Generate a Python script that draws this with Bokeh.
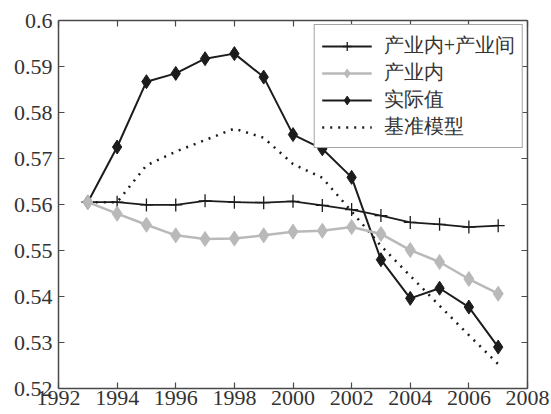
from bokeh.plotting import figure
from bokeh.models import (LinearAxis, FixedTicker, CustomJSTickFormatter, Range1d,
                          Legend, LegendItem)
from bokeh.embed import file_html
from bokeh.resources import INLINE

years = [1993, 1994, 1995, 1996, 1997, 1998, 1999, 2000, 2001, 2002, 2003, 2004, 2005, 2006, 2007]
both = [0.5605, 0.5605, 0.5599, 0.5599, 0.5608, 0.5605, 0.5604, 0.5607, 0.5598, 0.5589,
        0.5576, 0.5561, 0.5557, 0.5551, 0.5554]
intra = [0.5605, 0.5580, 0.5556, 0.5533, 0.5525, 0.5526, 0.5533, 0.5541, 0.5543, 0.5551,
         0.5536, 0.5501, 0.5475, 0.5438, 0.5406]
actual = [0.5605, 0.5725, 0.5867, 0.5885, 0.5917, 0.5928, 0.5877, 0.5752, 0.5721, 0.5659,
          0.5480, 0.5396, 0.5418, 0.5377, 0.5290]
baseline = [0.5605, 0.5605, 0.5685, 0.5715, 0.5740, 0.5765, 0.5745, 0.5688, 0.5658, 0.5585,
            0.5510, 0.5445, 0.5380, 0.5316, 0.5253]
names = ["产业内+产业间", "产业内", "实际值", "基准模型"]
x_ticks = [1992, 1994, 1996, 1998, 2000, 2002, 2004, 2006, 2008]
y_ticks = [0.52, 0.53, 0.54, 0.55, 0.56, 0.57, 0.58, 0.59, 0.60]

BLACK = "#1c1c1c"
GRAY = "#b9b9b9"
AXIS = "#4a4a4a"
SERIF = "Liberation Serif"

p = figure(width=551, height=414, output_backend="svg", toolbar_location=None,
           x_range=Range1d(1992, 2008), y_range=Range1d(0.52, 0.60),
           x_axis_location=None, y_axis_location=None,
           min_border_left=58, min_border_right=24, min_border_top=20, min_border_bottom=26)
p.background_fill_color = "white"
p.border_fill_color = "white"
p.outline_line_color = None
p.xgrid.visible = False
p.ygrid.visible = False

fmt = CustomJSTickFormatter(code="return String(parseFloat(tick.toFixed(2)));")

def make_axis(labels, ticks, formatter=None, standoff=5):
    ax = LinearAxis(ticker=FixedTicker(ticks=ticks))
    ax.axis_line_color = AXIS
    ax.axis_line_width = 1.5
    ax.major_tick_line_color = AXIS
    ax.major_tick_line_width = 1.2
    ax.major_tick_in = 6
    ax.major_tick_out = 0
    ax.minor_tick_line_color = None
    if formatter is not None:
        ax.formatter = formatter
    if labels:
        ax.major_label_text_font = SERIF
        ax.major_label_text_font_size = "22px"
        ax.major_label_text_color = "#333333"
        ax.major_label_standoff = standoff
    else:
        ax.major_label_text_font_size = "0px"
        ax.major_label_text_color = None
        ax.major_label_standoff = 0
    return ax

p.add_layout(make_axis(True, x_ticks, standoff=2), "below")
p.add_layout(make_axis(True, y_ticks, fmt, standoff=6), "left")
p.add_layout(make_axis(False, x_ticks), "above")
p.add_layout(make_axis(False, y_ticks), "right")

# series
r_both_l = p.line(years, both, line_color=BLACK, line_width=1.8)
r_both_m = p.scatter(years, both, marker="cross", size=13, line_color=BLACK, line_width=1.3)

r_act_l = p.line(years, actual, line_color=BLACK, line_width=2)
r_act_m = p.scatter(years, actual, marker="diamond", size=14, fill_color=BLACK, line_color=BLACK)

r_base = p.line(years, baseline, line_color=BLACK, line_width=2.5, line_dash="2 6")

r_in_l = p.line(years, intra, line_color=GRAY, line_width=2.5)
r_in_m = p.scatter(years, intra, marker="diamond", size=15, fill_color=GRAY, line_color=GRAY)

legend = Legend(items=[
    LegendItem(label=names[0], renderers=[r_both_l, r_both_m]),
    LegendItem(label=names[1], renderers=[r_in_l, r_in_m]),
    LegendItem(label=names[2], renderers=[r_act_l, r_act_m]),
    LegendItem(label=names[3], renderers=[r_base]),
], location="top_right")
legend.label_text_font = "Liberation Serif"
legend.label_text_font_size = "20px"
legend.label_text_color = "#333333"
legend.glyph_width = 50
legend.glyph_height = 22
legend.label_height = 22
legend.label_standoff = 12
legend.spacing = 0
legend.padding = 7
legend.margin = 4
legend.border_line_color = AXIS
legend.border_line_width = 1.5
legend.background_fill_color = "white"
legend.background_fill_alpha = 1.0
p.add_layout(legend)

open("out.html", "w").write(file_html(p, INLINE))
